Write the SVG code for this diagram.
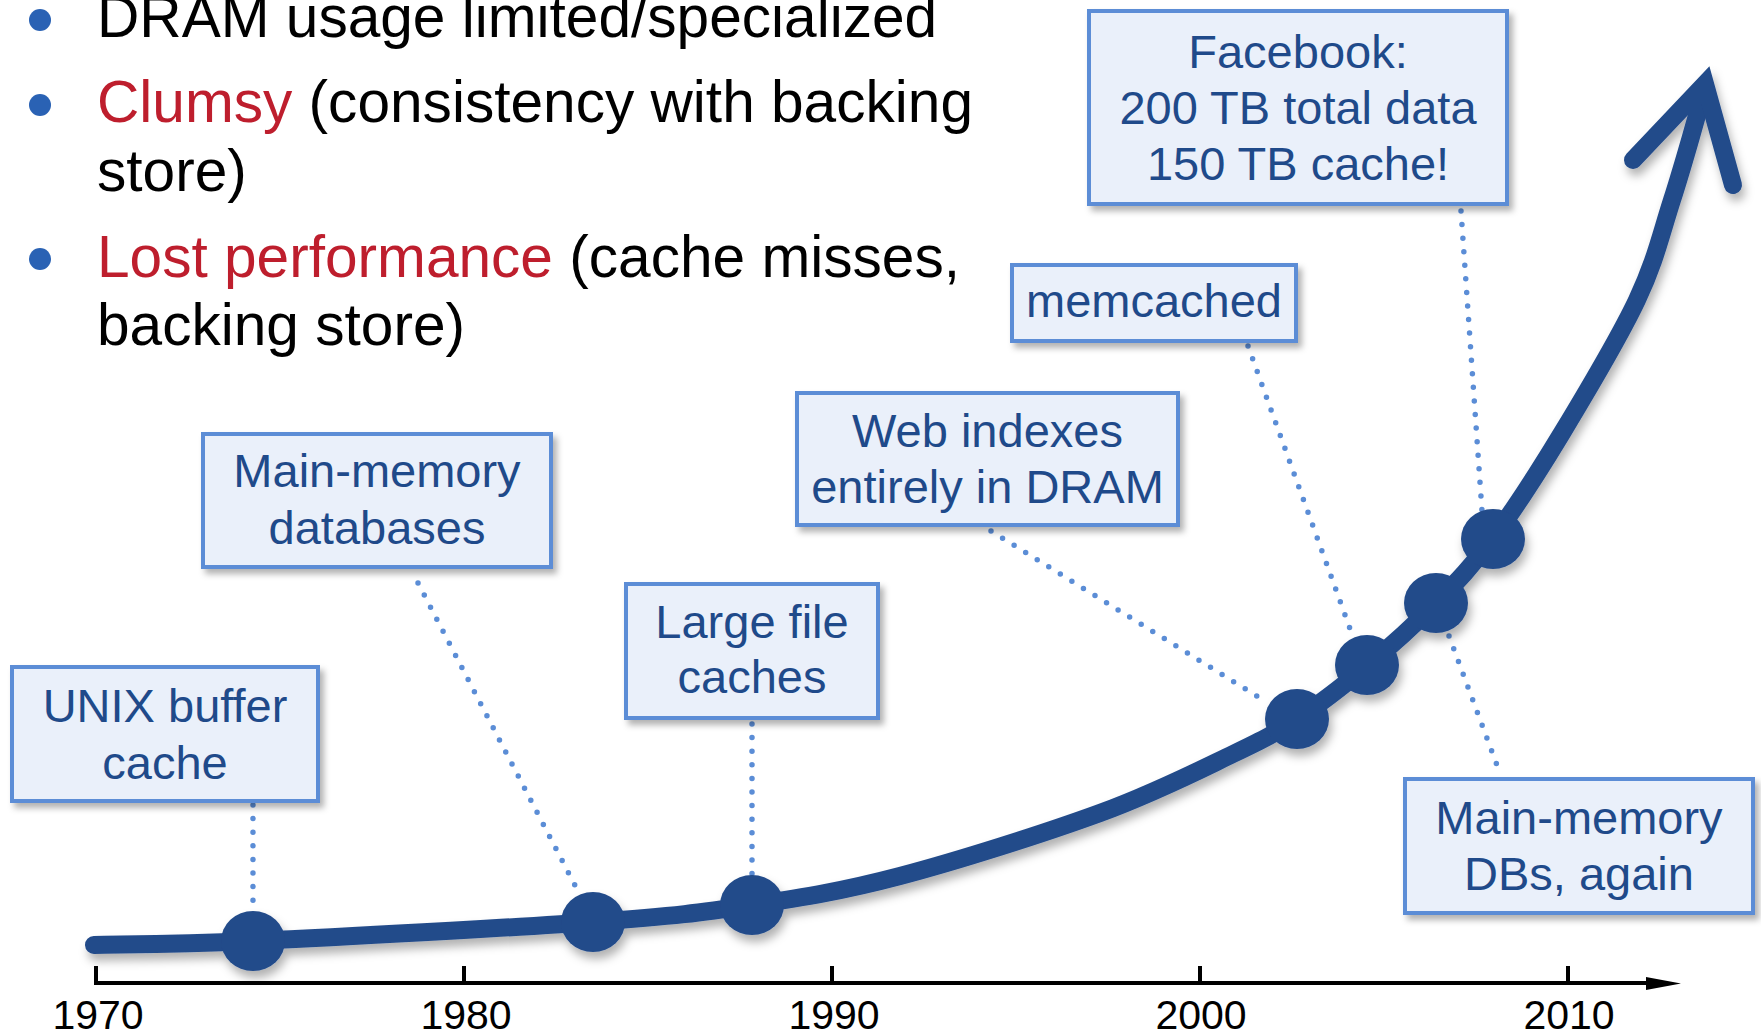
<svg xmlns="http://www.w3.org/2000/svg" width="1761" height="1035" viewBox="0 0 1761 1035">
<defs>
<filter id="boxShadow" x="-10%" y="-10%" width="130%" height="140%">
<feDropShadow dx="4" dy="5" stdDeviation="3" flood-color="#000" flood-opacity="0.3"/>
</filter>
<filter id="lineShadow" x="-10%" y="-10%" width="130%" height="130%">
<feDropShadow dx="3" dy="7" stdDeviation="5" flood-color="#000" flood-opacity="0.3"/>
</filter>
<style>
.bullet{font-family:"Liberation Sans",Arial,sans-serif;font-size:58.6px;fill:#000}
.red{fill:#BE1E2D}
.dot{fill:#2A62B4}
.box rect{fill:#EAF0FA;stroke:#5B8DD6;stroke-width:4;filter:url(#boxShadow)}
.box text{font-family:"Liberation Sans",Arial,sans-serif;font-size:47px;fill:#1F4A8A;text-anchor:middle}
.conn line{stroke:#5B8DD6;stroke-width:5.5;stroke-linecap:round;stroke-dasharray:0 13.6;fill:none}
.curve{fill:none;stroke:#234B8A;stroke-width:18}
.node{fill:#234B8A}
.axis{stroke:#000;stroke-width:4;fill:none}
.year{font-family:"Liberation Sans",Arial,sans-serif;font-size:41px;fill:#000;text-anchor:middle}
</style>
</defs>
<rect width="1761" height="1035" fill="#fff"/>

<g id="bullets">
<circle class="dot" cx="40" cy="20" r="11"/>
<circle class="dot" cx="40" cy="105" r="11"/>
<circle class="dot" cx="40" cy="259" r="11"/>
<text class="bullet" x="97" y="37">DRAM usage limited/specialized</text>
<text class="bullet" x="97" y="122"><tspan class="red">Clumsy</tspan> (consistency with backing</text>
<text class="bullet" x="97" y="191">store)</text>
<text class="bullet" x="97" y="277"><tspan class="red">Lost performance</tspan> (cache misses,</text>
<text class="bullet" x="97" y="345">backing store)</text>
</g>

<g id="axis">
<line class="axis" x1="96" y1="983" x2="1652" y2="983"/>
<polygon points="1646,977 1681,983.5 1646,990" fill="#000"/>
<line class="axis" x1="96" y1="966" x2="96" y2="985"/>
<line class="axis" x1="464" y1="966" x2="464" y2="985"/>
<line class="axis" x1="832" y1="966" x2="832" y2="985"/>
<line class="axis" x1="1200" y1="966" x2="1200" y2="985"/>
<line class="axis" x1="1568" y1="966" x2="1568" y2="985"/>
<text class="year" x="98" y="1029">1970</text>
<text class="year" x="466" y="1029">1980</text>
<text class="year" x="834" y="1029">1990</text>
<text class="year" x="1201" y="1029">2000</text>
<text class="year" x="1569" y="1029">2010</text>
</g>

<g id="connectors" class="conn">
<line x1="253" y1="805" x2="253" y2="910"/>
<line x1="418" y1="583" x2="580" y2="895"/>
<line x1="752" y1="724" x2="752" y2="876"/>
<line x1="991" y1="531" x2="1268" y2="703"/>
<line x1="1248" y1="346" x2="1353" y2="637"/>
<line x1="1461" y1="211" x2="1482" y2="511"/>
<line x1="1449" y1="636" x2="1501" y2="776"/>
</g>

<g id="timeline" filter="url(#lineShadow)">
<path class="curve" stroke-linecap="round" d="M94,945 C120.5,944.3 169.8,944.8 253,941 C336.2,937.2 509.8,928 593,922 C676.2,916 700.8,912.7 752,905 C803.2,897.3 842,891.3 900,876 C958,860.7 1044.5,833.3 1100,813 C1155.5,792.7 1200.2,769.7 1233,754 C1265.8,738.3 1274.7,733.7 1297,719 C1319.3,704.3 1343.8,685.3 1367,666 C1390.2,646.7 1415,624.3 1436,603 C1457,581.7 1472,566.3 1493,538 C1514,509.7 1538,472.7 1562,433 C1586,393.3 1618.7,338.8 1637,300 C1655.3,261.2 1660.5,235.8 1672,200 C1683.5,164.2 1700.3,104.2 1705,86"/>
<polyline class="curve" stroke-linecap="round" stroke-linejoin="miter" points="1633,160 1705,84 1733,185"/>
<ellipse class="node" cx="253" cy="941" rx="32" ry="30"/>
<ellipse class="node" cx="593" cy="922" rx="32" ry="30"/>
<ellipse class="node" cx="752" cy="905" rx="32" ry="30"/>
<ellipse class="node" cx="1297" cy="719" rx="32" ry="30"/>
<ellipse class="node" cx="1367" cy="665" rx="32" ry="30"/>
<ellipse class="node" cx="1436" cy="603" rx="32" ry="30"/>
<ellipse class="node" cx="1493" cy="539" rx="32" ry="30"/>
</g>

<g id="unix-buffer-cache" class="box">
<rect x="12" y="667" width="306" height="134"/>
<text x="165" y="722">UNIX buffer</text>
<text x="165" y="779">cache</text>
</g>
<g id="main-memory-databases" class="box">
<rect x="203" y="434" width="348" height="133"/>
<text x="377" y="487">Main-memory</text>
<text x="377" y="544">databases</text>
</g>
<g id="large-file-caches" class="box">
<rect x="626" y="584" width="252" height="134"/>
<text x="752" y="638">Large file</text>
<text x="752" y="693">caches</text>
</g>
<g id="web-indexes" class="box">
<rect x="797" y="393" width="381" height="132"/>
<text x="987.5" y="447">Web indexes</text>
<text x="987.5" y="503">entirely in DRAM</text>
</g>
<g id="memcached" class="box">
<rect x="1012" y="265" width="284" height="76"/>
<text x="1154" y="317">memcached</text>
</g>
<g id="facebook" class="box">
<rect x="1089" y="11" width="418" height="193"/>
<text x="1298" y="68">Facebook:</text>
<text x="1298" y="124">200 TB total data</text>
<text x="1298" y="180">150 TB cache!</text>
</g>
<g id="main-memory-dbs-again" class="box">
<rect x="1405" y="779" width="348" height="134"/>
<text x="1579" y="834">Main-memory</text>
<text x="1579" y="890">DBs, again</text>
</g>
</svg>
